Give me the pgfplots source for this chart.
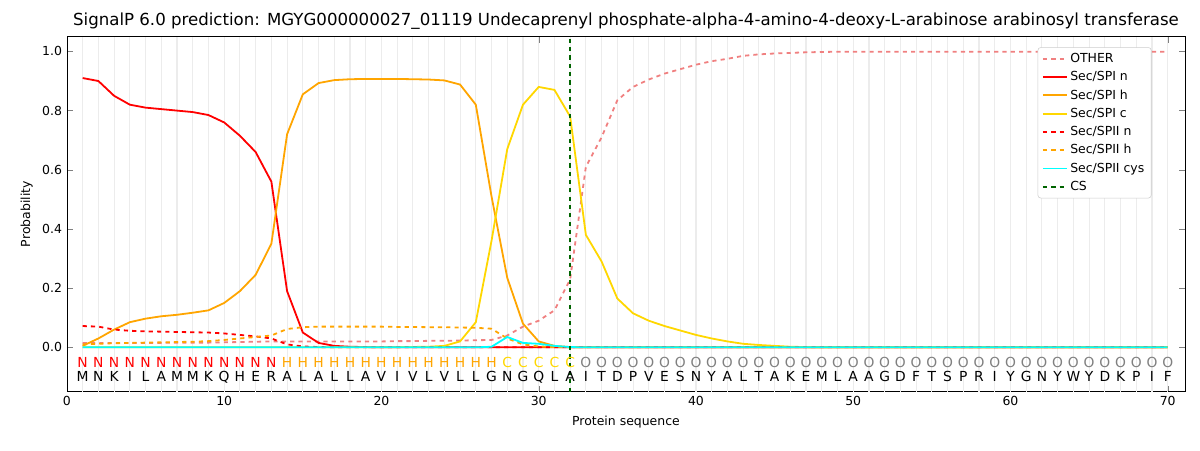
\documentclass[border=0pt]{standalone}
\usepackage{pgfplots}
\pgfplotsset{compat=1.18}
\usepackage{fontspec}
\setmainfont{DejaVu Sans}
\definecolor{lc}{HTML}{F08080}
\definecolor{gold}{HTML}{FFD700}
\definecolor{orng}{HTML}{FFA500}
\definecolor{dg}{HTML}{006400}
\definecolor{rd}{HTML}{FF0000}
\definecolor{cy}{HTML}{00FFFF}
\begin{document}
\begin{tikzpicture}
\useasboundingbox (-1.7cm,-1.5cm) rectangle (28.78cm,9.95cm);
\begin{axis}[scale only axis, width=28.4cm, height=9.02cm,
 xmin=0, xmax=71.1, ymin=-0.15, ymax=1.05,
 xtick={0,10,...,70}, ytick={0,0.2,...,1.0},
 yticklabel style={/pgf/number format/fixed,/pgf/number format/fixed zerofill,/pgf/number format/precision=1},
 /pgf/number format/assume math mode=true,
 tick label style={font=\small}, label style={font=\small},
 xlabel={Protein sequence}, ylabel={Probability},
 title={SignalP 6.0 prediction: MGYG000000027\_01119 Undecaprenyl phosphate-alpha-4-amino-4-deoxy-L-arabinose arabinosyl transferase},
 title style={font=\large, yshift=-4pt},
 extra x ticks={1,...,70}, extra x tick labels={},
 extra x tick style={grid=major, major grid style={gray!15, line width=0.8pt}, major tick length=0pt},
 legend pos=north east, legend style={font=\small, draw=gray!40, rounded corners=2pt, row sep=1pt},
 legend cell align=left, no marks, every axis plot/.append style={line width=1.3pt}]
\addplot[draw=lc, dashed] coordinates {(1,0.015)(2,0.015)(3,0.015)(4,0.015)(5,0.015)(6,0.015)(7,0.016)(8,0.016)(9,0.016)(10,0.017)(11,0.018)(12,0.019)(13,0.02)(14,0.02)(15,0.02)(16,0.02)(17,0.02)(18,0.02)(19,0.02)(20,0.02)(21,0.021)(22,0.021)(23,0.022)(24,0.022)(25,0.023)(26,0.024)(27,0.025)(28,0.04)(29,0.07)(30,0.09)(31,0.125)(32,0.23)(33,0.61)(34,0.71)(35,0.835)(36,0.88)(37,0.905)(38,0.925)(39,0.94)(40,0.955)(41,0.967)(42,0.975)(43,0.985)(44,0.99)(45,0.993)(46,0.995)(47,0.997)(48,0.998)(49,0.999)(50,0.999)(55,0.999)(60,0.999)(65,0.999)(70,0.999)};
\addlegendentry{OTHER}
\addplot[draw=rd, solid] coordinates {(1,0.91)(2,0.90)(3,0.85)(4,0.82)(5,0.81)(6,0.805)(7,0.80)(8,0.795)(9,0.785)(10,0.76)(11,0.715)(12,0.66)(13,0.56)(14,0.19)(15,0.05)(16,0.015)(17,0.005)(18,0.002)(19,0.001)(20,0)(30,0)(40,0)(50,0)(60,0)(70,0)};
\addlegendentry{Sec/SPI n}
\addplot[draw=orng, solid] coordinates {(1,0.005)(2,0.03)(3,0.06)(4,0.085)(5,0.097)(6,0.105)(7,0.11)(8,0.117)(9,0.125)(10,0.15)(11,0.19)(12,0.245)(13,0.35)(14,0.72)(15,0.855)(16,0.893)(17,0.903)(18,0.906)(19,0.907)(20,0.907)(21,0.907)(22,0.906)(23,0.905)(24,0.902)(25,0.888)(26,0.82)(27,0.51)(28,0.235)(29,0.08)(30,0.02)(31,0.005)(32,0.001)(33,0)(40,0)(50,0)(60,0)(70,0)};
\addlegendentry{Sec/SPI h}
\addplot[draw=gold, solid] coordinates {(1,0)(10,0)(20,0)(23,0.002)(24,0.005)(25,0.02)(26,0.085)(27,0.36)(28,0.67)(29,0.82)(30,0.88)(31,0.87)(32,0.78)(33,0.38)(34,0.29)(35,0.165)(36,0.115)(37,0.09)(38,0.072)(39,0.057)(40,0.042)(41,0.03)(42,0.02)(43,0.012)(44,0.008)(45,0.005)(46,0.002)(47,0.001)(48,0)(60,0)(70,0)};
\addlegendentry{Sec/SPI c}
\addplot[draw=rd, dashed] coordinates {(1,0.072)(2,0.07)(3,0.06)(4,0.056)(5,0.054)(6,0.053)(7,0.052)(8,0.051)(9,0.05)(10,0.047)(11,0.042)(12,0.037)(13,0.03)(14,0.01)(15,0.003)(16,0.001)(17,0)(30,0)(40,0)(50,0)(60,0)(70,0)};
\addlegendentry{Sec/SPII n}
\addplot[draw=orng, dashed] coordinates {(1,0.01)(2,0.012)(3,0.014)(4,0.015)(5,0.016)(6,0.017)(7,0.018)(8,0.019)(9,0.021)(10,0.025)(11,0.03)(12,0.035)(13,0.04)(14,0.062)(15,0.068)(16,0.07)(17,0.07)(18,0.07)(19,0.07)(20,0.07)(21,0.069)(22,0.069)(23,0.068)(24,0.068)(25,0.067)(26,0.066)(27,0.063)(28,0.03)(29,0.01)(30,0.003)(31,0.001)(32,0)(40,0)(50,0)(60,0)(70,0)};
\addlegendentry{Sec/SPII h}
\addplot[draw=cy, solid] coordinates {(1,0)(10,0)(20,0)(26,0)(27,0.002)(28,0.035)(29,0.015)(30,0.012)(31,0.005)(32,0.001)(33,0)(40,0)(50,0)(60,0)(70,0)};
\addlegendentry{Sec/SPII cys}
\addplot[draw=dg, dashed] coordinates {(32,-0.15)(32,1.05)};
\addlegendentry{CS}
\addplot[only marks, mark=none, nodes near coords, point meta=explicit symbolic, every node near coord/.style={rd, anchor=center}, forget plot] table[meta=l] {
x y l
1 -0.05 N
2 -0.05 N
3 -0.05 N
4 -0.05 N
5 -0.05 N
6 -0.05 N
7 -0.05 N
8 -0.05 N
9 -0.05 N
10 -0.05 N
11 -0.05 N
12 -0.05 N
13 -0.05 N
};
\addplot[only marks, mark=none, nodes near coords, point meta=explicit symbolic, every node near coord/.style={orng, anchor=center}, forget plot] table[meta=l] {
x y l
14 -0.05 H
15 -0.05 H
16 -0.05 H
17 -0.05 H
18 -0.05 H
19 -0.05 H
20 -0.05 H
21 -0.05 H
22 -0.05 H
23 -0.05 H
24 -0.05 H
25 -0.05 H
26 -0.05 H
27 -0.05 H
};
\addplot[only marks, mark=none, nodes near coords, point meta=explicit symbolic, every node near coord/.style={gold, anchor=center}, forget plot] table[meta=l] {
x y l
28 -0.05 C
29 -0.05 C
30 -0.05 C
31 -0.05 C
32 -0.05 C
};
\addplot[only marks, mark=none, nodes near coords, point meta=explicit symbolic, every node near coord/.style={gray, anchor=center}, forget plot] table[meta=l] {
x y l
33 -0.05 O
34 -0.05 O
35 -0.05 O
36 -0.05 O
37 -0.05 O
38 -0.05 O
39 -0.05 O
40 -0.05 O
41 -0.05 O
42 -0.05 O
43 -0.05 O
44 -0.05 O
45 -0.05 O
46 -0.05 O
47 -0.05 O
48 -0.05 O
49 -0.05 O
50 -0.05 O
51 -0.05 O
52 -0.05 O
53 -0.05 O
54 -0.05 O
55 -0.05 O
56 -0.05 O
57 -0.05 O
58 -0.05 O
59 -0.05 O
60 -0.05 O
61 -0.05 O
62 -0.05 O
63 -0.05 O
64 -0.05 O
65 -0.05 O
66 -0.05 O
67 -0.05 O
68 -0.05 O
69 -0.05 O
70 -0.05 O
};
\addplot[only marks, mark=none, nodes near coords, point meta=explicit symbolic, every node near coord/.style={black, anchor=center}, forget plot] table[meta=l] {
x y l
1 -0.1 M
2 -0.1 N
3 -0.1 K
4 -0.1 I
5 -0.1 L
6 -0.1 A
7 -0.1 M
8 -0.1 M
9 -0.1 K
10 -0.1 Q
11 -0.1 H
12 -0.1 E
13 -0.1 R
14 -0.1 A
15 -0.1 L
16 -0.1 A
17 -0.1 L
18 -0.1 L
19 -0.1 A
20 -0.1 V
21 -0.1 I
22 -0.1 V
23 -0.1 L
24 -0.1 V
25 -0.1 L
26 -0.1 L
27 -0.1 G
28 -0.1 N
29 -0.1 G
30 -0.1 Q
31 -0.1 L
32 -0.1 A
33 -0.1 I
34 -0.1 T
35 -0.1 D
36 -0.1 P
37 -0.1 V
38 -0.1 E
39 -0.1 S
40 -0.1 N
41 -0.1 Y
42 -0.1 A
43 -0.1 L
44 -0.1 T
45 -0.1 A
46 -0.1 K
47 -0.1 E
48 -0.1 M
49 -0.1 L
50 -0.1 A
51 -0.1 A
52 -0.1 G
53 -0.1 D
54 -0.1 F
55 -0.1 T
56 -0.1 S
57 -0.1 P
58 -0.1 R
59 -0.1 I
60 -0.1 Y
61 -0.1 G
62 -0.1 N
63 -0.1 Y
64 -0.1 W
65 -0.1 Y
66 -0.1 D
67 -0.1 K
68 -0.1 P
69 -0.1 I
70 -0.1 F
};
\end{axis}
\end{tikzpicture}
\end{document}
